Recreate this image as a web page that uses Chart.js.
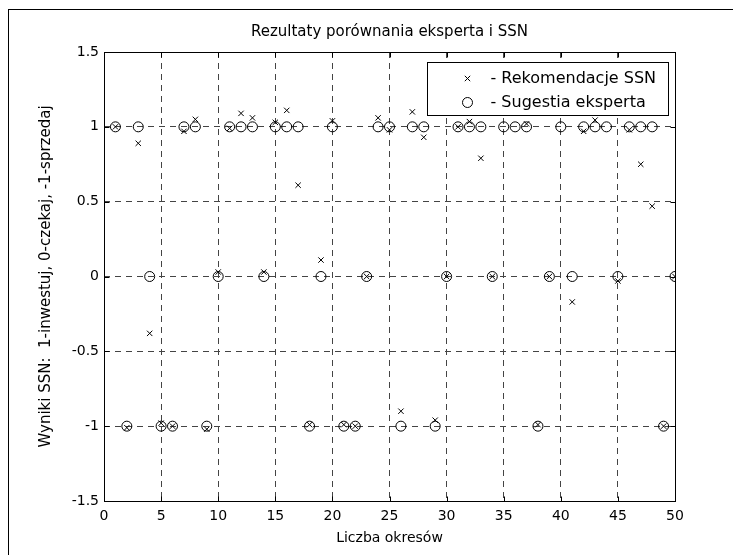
<!DOCTYPE html>
<html>
<head>
<meta charset="utf-8">
<script src="https://cdn.jsdelivr.net/npm/chart.js@4.4.0/dist/chart.umd.min.js"></script>
<style>
  html, body { margin: 0; padding: 0; background: #fff; }
  #wrap { width: 733px; height: 555px; position: relative; }
</style>
</head>
<body>
<div id="wrap"><canvas id="wyniki"></canvas></div>
<script>
// Okresy (os X)
const periods = [1, 2, 3, 4, 5, 6, 7, 8, 9, 10,
  11, 12, 13, 14, 15, 16, 17, 18, 19, 20,
  21, 22, 23, 24, 25, 26, 27, 28, 29, 30,
  31, 32, 33, 34, 35, 36, 37, 38, 39, 40,
  41, 42, 43, 44, 45, 46, 47, 48, 49, 50];

// Sugestia eksperta
const expertValues = [1, -1, 1, 0, -1, -1, 1, 1, -1, 0,
  1, 1, 1, 0, 1, 1, 1, -1, 0, 1,
  -1, -1, 0, 1, 1, -1, 1, 1, -1, 0,
  1, 1, 1, 0, 1, 1, 1, -1, 0, 1,
  0, 1, 1, 1, 0, 1, 1, 1, -1, 0];

// Rekomendacje SSN (null = not visible in the picture)
const ssnValues = [1.0, -1.01, 0.89, -0.38, -0.98, -1.0, 0.97, 1.05, -1.02, 0.03,
  0.99, 1.09, 1.06, 0.03, 1.03, 1.11, 0.61, -0.99, 0.11, 1.04,
  -0.99, -1.0, 0.0, 1.06, 0.98, -0.9, 1.1, 0.93, -0.96, 0.0,
  1.0, 1.035, 0.79, 0.0, null, null, 1.02, -0.99, 0.0, null,
  -0.17, 0.97, 1.045, null, -0.03, 0.98, 0.75, 0.47, -1.0, 0.0];

const xTicks = [0, 5, 10, 15, 20, 25, 30, 35, 40, 45, 50];
const yTicks = [-1.5, -1, -0.5, 0, 0.5, 1, 1.5];

const chartTitle = 'Rezultaty porównania eksperta i SSN';
const FONT = 'DejaVu Sans';

// Ramka, znaczniki osi do wewnatrz, tytul i legenda
const framePlugin = {
  id: 'frame',
  afterDraw(chart) {
    const { ctx, chartArea: a, scales: { x, y } } = chart;
    const px = v => Math.round(v) + 0.5;
    ctx.save();
    ctx.strokeStyle = '#000';
    ctx.lineWidth = 1;
    ctx.setLineDash([]);

    // outer frame (cropped on the right and bottom)
    ctx.strokeRect(8.5, 9.5, 900, 900);

    // axes box
    const l = px(a.left), r = px(a.right), t = px(a.top), b = px(a.bottom);
    ctx.strokeRect(l, t, r - l, b - t);

    ctx.beginPath();
    xTicks.forEach(v => {
      const xp = px(x.getPixelForValue(v));
      ctx.moveTo(xp, b); ctx.lineTo(xp, b - 5);
      ctx.moveTo(xp, t); ctx.lineTo(xp, t + 5);
    });
    yTicks.forEach(v => {
      const yp = px(y.getPixelForValue(v));
      ctx.moveTo(l, yp); ctx.lineTo(l + 5, yp);
      ctx.moveTo(r, yp); ctx.lineTo(r - 5, yp);
    });
    ctx.stroke();

    // title over the axes
    ctx.fillStyle = '#000';
    ctx.font = '15px "' + FONT + '"';
    ctx.textAlign = 'center';
    ctx.textBaseline = 'middle';
    ctx.fillText(chartTitle, (a.left + a.right) / 2, 32);

    // legend
    const lx = 427.5, ly = 62.5, lw = 241, lh = 53;
    ctx.fillStyle = '#fff';
    ctx.fillRect(lx, ly, lw, lh);
    ctx.strokeRect(lx, ly, lw, lh);

    const row1 = ly + 16, row2 = ly + 40, mx = lx + 40;
    ctx.beginPath();
    ctx.moveTo(mx - 2.7, row1 - 2.7); ctx.lineTo(mx + 2.7, row1 + 2.7);
    ctx.moveTo(mx + 2.7, row1 - 2.7); ctx.lineTo(mx - 2.7, row1 + 2.7);
    ctx.stroke();
    ctx.beginPath();
    ctx.arc(mx, row2, 5, 0, Math.PI * 2);
    ctx.stroke();

    ctx.fillStyle = '#000';
    ctx.font = '16px "' + FONT + '"';
    ctx.textAlign = 'left';
    ctx.fillText('- Rekomendacje SSN', lx + 63, row1);
    ctx.fillText('- Sugestia eksperta', lx + 63, row2);
    ctx.restore();
  }
};

const ctx = document.getElementById('wyniki').getContext('2d');
const chart = new Chart(ctx, {
  type: 'scatter',
  data: {
    datasets: [
      {
        label: 'Sugestia eksperta',
        data: periods.map((p, i) => ({ x: p, y: expertValues[i] })),
        pointStyle: 'circle',
        pointRadius: 5,
        pointBorderWidth: 1,
        borderColor: '#000',
        backgroundColor: 'rgba(0,0,0,0)'
      },
      {
        label: 'Rekomendacje SSN',
        data: periods.map((p, i) => ({ x: p, y: ssnValues[i] })),
        pointStyle: 'crossRot',
        pointRadius: 3.8,
        pointBorderWidth: 1,
        borderColor: '#000',
        backgroundColor: '#000'
      }
    ]
  },
  options: {
    responsive: true,
    maintainAspectRatio: false,
    animation: false,
    layout: { padding: { left: 0, right: 58, top: 52, bottom: 0 } },
    plugins: {
      legend: { display: false },
      tooltip: { enabled: false },
      title: { display: false }
    },
    scales: {
      x: {
        type: 'linear',
        min: 0,
        max: 50,
        afterBuildTicks: s => { s.ticks = xTicks.map(v => ({ value: v })); },
        afterFit: s => { s.height = 54; },
        grid: { color: '#444', lineWidth: 1, drawTicks: false },
        border: { display: false, dash: [6, 5] },
        ticks: {
          color: '#000',
          padding: 7,
          maxRotation: 0,
          font: { family: FONT, size: 14 },
          callback: v => String(v)
        },
        title: {
          display: true,
          text: 'Liczba okresów',
          color: '#000',
          font: { family: FONT, size: 14 },
          padding: { top: 0, bottom: 8 }
        }
      },
      y: {
        type: 'linear',
        min: -1.5,
        max: 1.5,
        afterBuildTicks: s => { s.ticks = yTicks.map(v => ({ value: v })); },
        afterFit: s => { s.width = 104; },
        grid: { color: '#444', lineWidth: 1, drawTicks: false },
        border: { display: false, dash: [6, 5] },
        ticks: {
          color: '#000',
          padding: 5,
          font: { family: FONT, size: 14 },
          callback: v => String(v)
        },
        title: {
          display: true,
          text: 'Wyniki SSN:  1-inwestuj, 0-czekaj, -1-sprzedaj',
          color: '#000',
          font: { family: FONT, size: 15 },
          padding: { top: 37, bottom: 0 }
        }
      }
    }
  },
  plugins: [framePlugin]
});
</script>
</body>
</html>
